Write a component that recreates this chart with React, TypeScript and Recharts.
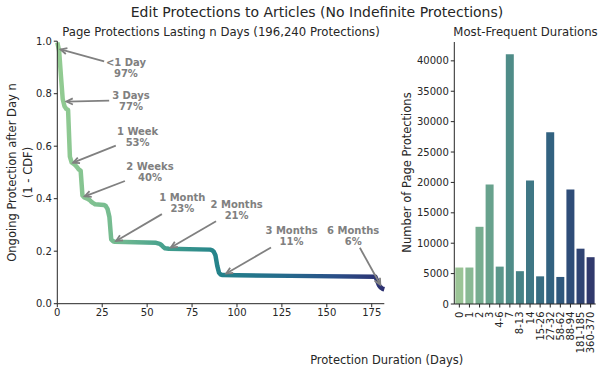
import React from 'react';
import { LineChart, Line, XAxis, YAxis, ReferenceLine, BarChart, Bar, Cell } from 'recharts';

// survival curve (1 - CDF)
const lineDays = [0, 1, 2, 3, 4, 5, 6, 7, 8, 9, 10, 11, 12, 13, 14, 15, 16, 17, 18, 19, 20, 21, 26, 27, 28, 29, 30, 31, 32, 55, 57, 58, 59, 60, 62, 85, 86, 87, 88, 89, 90, 91, 92, 100, 130, 177, 178, 179, 180, 181, 182];
const lineValues = [0.995, 0.965, 0.87, 0.78, 0.752, 0.742, 0.738, 0.56, 0.538, 0.533, 0.528, 0.52, 0.511, 0.507, 0.412, 0.405, 0.402, 0.399, 0.395, 0.388, 0.383, 0.379, 0.376, 0.372, 0.36, 0.33, 0.245, 0.238, 0.236, 0.232, 0.228, 0.223, 0.216, 0.211, 0.209, 0.206, 0.204, 0.199, 0.185, 0.145, 0.118, 0.111, 0.109, 0.108, 0.106, 0.103, 0.088, 0.07, 0.062, 0.057, 0.055];

const xTicks = [0, 25, 50, 75, 100, 125, 150, 175];
const yTicks = [0, 0.2, 0.4, 0.6, 0.8, 1.0];

// annotations: label, percent, arrow tip and text centre (data coords)
const annLabels = ['<1 Day', '3 Days', '1 Week', '2 Weeks', '1 Month', '2 Months', '3 Months', '6 Months'];
const annPcts = ['97%', '77%', '53%', '40%', '23%', '21%', '11%', '6%'];
const annTipDays = [1, 4.3, 8, 14.5, 32, 62.5, 93.3, 180.2];
const annTipVals = [0.97, 0.77, 0.535, 0.407, 0.236, 0.211, 0.112, 0.067];
const annTextDays = [38.2, 41.0, 44.7, 51.6, 69.6, 99.8, 130.4, 164.7];
const annTextVals = [0.901, 0.775, 0.635, 0.504, 0.387, 0.36, 0.26, 0.259];

// right panel
const durations = ['0', '1', '2', '3', '4-6', '7', '8-13', '14', '15-26', '27-32', '58-62', '88-94', '181-185', '360-370'];
const durationCounts = [6000, 6000, 12700, 19650, 6150, 41100, 5400, 20300, 4550, 28250, 4450, 18850, 9100, 7700];
const countTicks = [0, 5000, 10000, 15000, 20000, 25000, 30000, 35000, 40000];

const barColors = ['#9bc496', '#89b994', '#77ad90', '#68a28d', '#5b978b', '#4f8c88', '#468286', '#3f7785', '#386d82', '#326280', '#2f587d', '#2f4d78', '#304473', '#30396c'];

const FONT = 'DejaVu Sans';
const INK = '#262626';
const GRAY = '#808080';

const lineData = lineDays.map((d, i) => ({ day: d, value: lineValues[i] }));
const barData = durations.map((d, i) => ({ name: d, count: durationCounts[i] }));

const tickStyle = { fontSize: 10, fill: INK, fontFamily: FONT };

const makeArrow = (label: string, pct: string) => (p: any) => {
  const { x1, y1, x2, y2 } = p;
  const dx = x2 - x1;
  const dy = y2 - y1;
  const len = Math.sqrt(dx * dx + dy * dy);
  const hw = Math.max(label.length, pct.length) * 3.3 + 2;
  const hh = 12;
  const t = Math.min(Math.abs(dx) > 0 ? hw / Math.abs(dx) : 1e9, Math.abs(dy) > 0 ? hh / Math.abs(dy) : 1e9);
  const sx = x1 + dx * t;
  const sy = y1 + dy * t;
  const ux = dx / len;
  const uy = dy / len;
  const ex = x2 - ux * 1.5;
  const ey = y2 - uy * 1.5;
  const a = Math.atan2(uy, ux);
  const hl = 7;
  const ha = 0.45;
  const h1x = ex - hl * Math.cos(a - ha);
  const h1y = ey - hl * Math.sin(a - ha);
  const h2x = ex - hl * Math.cos(a + ha);
  const h2y = ey - hl * Math.sin(a + ha);
  return (
    <g>
      <line x1={sx} y1={sy} x2={ex} y2={ey} stroke={GRAY} strokeWidth={1.8} />
      <path d={`M${h1x},${h1y} L${ex},${ey} L${h2x},${h2y}`} fill="none" stroke={GRAY} strokeWidth={1.8} />
      <text textAnchor="middle" fontFamily={FONT} fontSize={10} fontWeight="bold" fill={GRAY}>
        <tspan x={x1} y={y1 - 1.6}>{label}</tspan>
        <tspan x={x1} y={y1 + 9.4}>{pct}</tspan>
      </text>
    </g>
  );
};

const RotatedTick = (p: any) => {
  const { x, y, payload } = p;
  return (
    <text transform={`translate(${x},${y + 2}) rotate(-90)`} textAnchor="end" dominantBaseline="central" fontSize={10} fill={INK} fontFamily={FONT}>
      {payload.value}
    </text>
  );
};

export default function App() {
  return (
    <div style={{ position: 'absolute', left: 0, top: 0, width: 598, height: 374, background: '#fff', fontFamily: FONT }}>
      <div style={{ position: 'absolute', left: 0, top: 0 }}>
        <LineChart width={400} height={374} data={lineData} margin={{ top: 41.2, right: 15.7, bottom: 40.3, left: 17.3 }}>
          <defs>
            <linearGradient id="crestLine" x1="0" y1="0" x2="1" y2="0">
              <stop offset="0%" stopColor="#94cc92" />
              <stop offset="20%" stopColor="#6fb890" />
              <stop offset="35%" stopColor="#3f9c8d" />
              <stop offset="50%" stopColor="#23818a" />
              <stop offset="70%" stopColor="#256a8c" />
              <stop offset="85%" stopColor="#2a4f88" />
              <stop offset="100%" stopColor="#2c2f70" />
            </linearGradient>
          </defs>
          <XAxis dataKey="day" type="number" domain={[0, 182]} ticks={xTicks} height={30} tickSize={3.5} tickMargin={2}
            tick={tickStyle} tickLine={{ stroke: INK }} axisLine={{ stroke: INK }} />
          <XAxis xAxisId="top" orientation="top" dataKey="day" type="number" domain={[0, 182]} height={0} tick={false} tickLine={false} axisLine={{ stroke: INK }} />
          <YAxis type="number" domain={[0, 1]} ticks={yTicks} width={40} tickSize={3.5} tickMargin={2}
            tickFormatter={(v: number) => v.toFixed(1)} tick={tickStyle} tickLine={{ stroke: INK }} axisLine={{ stroke: INK }} />
          <YAxis yAxisId="right" orientation="right" type="number" domain={[0, 1]} width={0} tick={false} tickLine={false} axisLine={{ stroke: INK }} />
          <Line type="linear" dataKey="value" stroke="url(#crestLine)" strokeWidth={4.5} dot={false} isAnimationActive={false} strokeLinejoin="round" />
          {annLabels.map((lab, i) => (
            <ReferenceLine key={lab}
              segment={[{ x: annTextDays[i], y: annTextVals[i] }, { x: annTipDays[i], y: annTipVals[i] }]}
              shape={makeArrow(lab, annPcts[i])} ifOverflow="visible" />
          ))}
        </LineChart>
      </div>
      <div style={{ position: 'absolute', left: 390, top: 0 }}>
        <BarChart width={208} height={374} data={barData} margin={{ top: 42, right: 2.3, bottom: 15, left: 14.3 }} barCategoryGap="10%">
          <XAxis dataKey="name" height={55} interval={0} tick={<RotatedTick />} tickSize={3.5} tickLine={{ stroke: INK }} axisLine={{ stroke: INK }} />
          <XAxis xAxisId="top" orientation="top" dataKey="name" height={0} tick={false} tickLine={false} axisLine={{ stroke: INK }} />
          <YAxis type="number" domain={[0, 43100]} ticks={countTicks} width={50} tickSize={3.5} tickMargin={2}
            tick={tickStyle} tickLine={{ stroke: INK }} axisLine={{ stroke: INK }} />
          <YAxis yAxisId="right" orientation="right" type="number" domain={[0, 43100]} width={0} tick={false} tickLine={false} axisLine={{ stroke: INK }} />
          <Bar dataKey="count" isAnimationActive={false}>
            {barData.map((d, i) => (
              <Cell key={d.name} fill={barColors[i]} />
            ))}
          </Bar>
        </BarChart>
      </div>
      <svg width={598} height={374} style={{ position: 'absolute', left: 0, top: 0, pointerEvents: 'none' }} fontFamily={FONT}>
        <text x={317} y={16.5} textAnchor="middle" fontSize={14} fill={INK}>Edit Protections to Articles (No Indefinite Protections)</text>
        <text x={221} y={35.5} textAnchor="middle" fontSize={11.7} fill={INK}>Page Protections Lasting n Days (196,240 Protections)</text>
        <text x={525.5} y={35.5} textAnchor="middle" fontSize={11.7} fill={INK}>Most-Frequent Durations</text>
        <text x={386.7} y={364} textAnchor="middle" fontSize={11.5} fill={INK}>Protection Duration (Days)</text>
        <text transform="translate(15.8,172.5) rotate(-90)" textAnchor="middle" fontSize={11.5} fill={INK}>Ongoing Protection after Day n</text>
        <text transform="translate(31.5,172.5) rotate(-90)" textAnchor="middle" fontSize={11.5} fill={INK}>(1 - CDF)</text>
        <text transform="translate(410.8,172.5) rotate(-90)" textAnchor="middle" fontSize={11.5} fill={INK}>Number of Page Protections</text>
      </svg>
    </div>
  );
}
